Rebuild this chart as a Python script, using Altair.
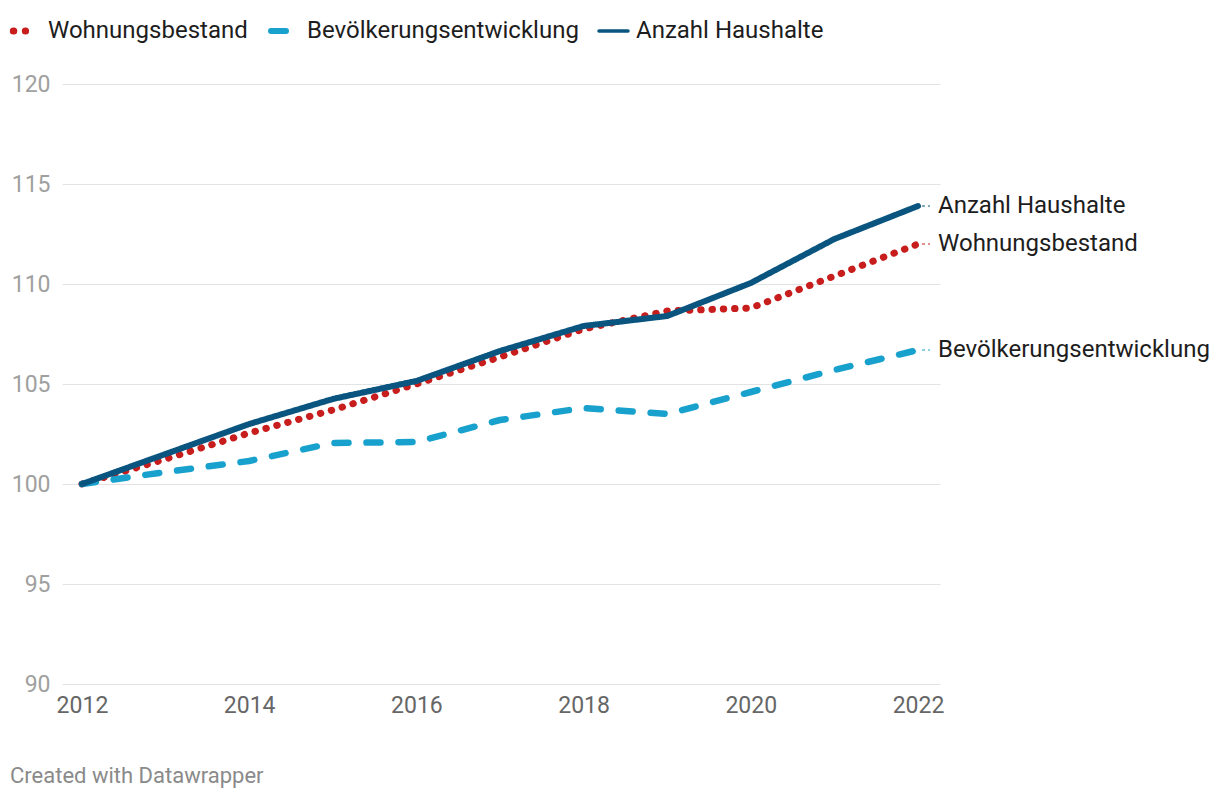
import altair as alt
import pandas as pd

years = [2012, 2013, 2014, 2015, 2016, 2017, 2018, 2019, 2020, 2021, 2022]
wohnungsbestand = [100, 101.25, 102.55, 103.7, 105.0, 106.35, 107.75, 108.65, 108.8, 110.4, 112.0]
bevoelkerung = [100, 100.6, 101.15, 102.05, 102.1, 103.2, 103.8, 103.5, 104.6, 105.7, 106.7]
haushalte = [100, 101.5, 103.0, 104.25, 105.15, 106.65, 107.9, 108.4, 110.05, 112.25, 113.9]

series_names = ["Wohnungsbestand", "Bevölkerungsentwicklung", "Anzahl Haushalte"]
series_values = [wohnungsbestand, bevoelkerung, haushalte]
series_colors = ["#c71e1d", "#18a1cd", "#09557f"]
series_dash = [[0.5, 10.8], [14, 18], [1, 0]]
series_width = [7, 6, 3]
y_ticks = [90, 95, 100, 105, 110, 115, 120]
x_ticks = [2012, 2014, 2016, 2018, 2020, 2022]
footer = "Created with Datawrapper"

rows = []
for name, vals in zip(series_names, series_values):
    for yr, v in zip(years, vals):
        rows.append({"year": yr, "value": v, "series": name})
df = pd.DataFrame(rows)
ends = pd.DataFrame({"year": [years[-1]] * 3,
                     "value": [v[-1] for v in series_values],
                     "series": series_names})

x_scale = alt.Scale(domain=[2011.761, 2022.263], nice=False, zero=False)
y_scale = alt.Scale(domain=[90, 120], nice=False, zero=False)
c_scale = alt.Scale(domain=series_names, range=series_colors)

x_axis = alt.Axis(values=x_ticks, format="d", title=None, grid=False, domain=False,
                  ticks=False, labelFontSize=23, labelColor="#666666", labelPadding=10,
                  labelFlush=False)
y_axis = alt.Axis(values=y_ticks, title=None, grid=True, gridColor="#e3e3e3", gridWidth=1,
                  domain=False, ticks=False, labelFontSize=23, labelColor="#a0a0a0",
                  labelPadding=12)

lines = alt.Chart(df).mark_line(strokeCap="round", strokeJoin="round").encode(
    x=alt.X("year:Q", scale=x_scale, axis=x_axis),
    y=alt.Y("value:Q", scale=y_scale, axis=y_axis),
    color=alt.Color("series:N", scale=c_scale, legend=None),
    strokeDash=alt.StrokeDash("series:N", scale=alt.Scale(domain=series_names, range=series_dash), legend=None),
    strokeWidth=alt.StrokeWidth("series:N", scale=alt.Scale(domain=series_names, range=series_width), legend=None),
)

connectors = alt.Chart(ends).mark_rule(xOffset=4, x2Offset=12, strokeDash=[3, 3], strokeWidth=1).encode(
    x=alt.X("year:Q", scale=x_scale), x2="year:Q",
    y=alt.Y("value:Q", scale=y_scale),
    color=alt.Color("series:N", scale=c_scale, legend=None),
)

labels = alt.Chart(ends).mark_text(align="left", baseline="middle", dx=20, fontSize=24,
                                   color="#1d1d1d").encode(
    x=alt.X("year:Q", scale=x_scale),
    y=alt.Y("value:Q", scale=y_scale),
    text="series:N",
)

# manual legend (top, in pixel space of the chart)
leg_y = -53
leg_symbols = [(-48.7, -36.4), (209, 224), (537, 566)]
leg_text_x = [-14, 245, 574]
legend_layers = []
for i, name in enumerate(series_names):
    d = pd.DataFrame({"series": [name]})
    x0, x1 = leg_symbols[i]
    sym = alt.Chart(d).mark_rule(strokeCap="round", color=series_colors[i],
                                 strokeWidth=series_width[i] + (0.5 if i == 2 else 0),
                                 strokeDash=[0.5, 11.5] if i == 0 else [1, 0]).encode(
        x=alt.value(x0), x2=alt.value(x1), y=alt.value(leg_y))
    txt = alt.Chart(d).mark_text(align="left", baseline="middle", fontSize=24,
                                 color="#1d1d1d").encode(
        x=alt.value(leg_text_x[i]), y=alt.value(leg_y), text="series:N")
    legend_layers += [sym, txt]

foot = alt.Chart(pd.DataFrame({"t": [footer]})).mark_text(
    align="left", baseline="middle", fontSize=22, color="#8a8a8a").encode(
    x=alt.value(-52), y=alt.value(692), text="t:N")

chart = alt.layer(lines, connectors, labels, foot, *legend_layers).properties(
    width=878, height=600,
    autosize=alt.AutoSizeParams(type="none"),
    padding={"left": 54, "top": 76, "right": 272, "bottom": 108},
).configure(font="Roboto").configure_view(stroke=None)

chart.save("out.html", embed_options={"renderer": "svg", "actions": False})
